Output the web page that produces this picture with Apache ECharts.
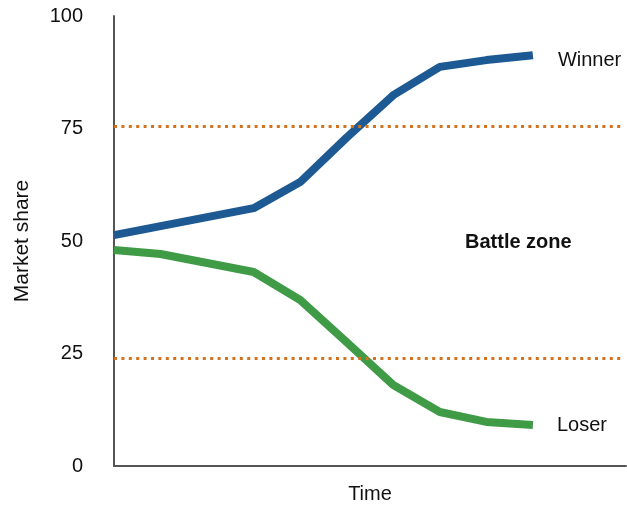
<!DOCTYPE html>
<html>
<head>
<meta charset="utf-8">
<script src="https://cdn.jsdelivr.net/npm/echarts@6/dist/echarts.min.js"></script>
<style>
html,body{margin:0;padding:0;background:#fff;}
#c{width:627px;height:506px;}
</style>
</head>
<body>
<div id="c"></div>
<script>
var timeSteps = [0, 1, 2, 3, 4, 5, 6, 7, 8, 9];
var winner = [51.3, 53.3, 55.3, 57.3, 63.1, 73.0, 82.4, 88.7, 90.2, 91.3];
var loser = [48.0, 47.1, 45.1, 43.1, 36.9, 27.5, 18.0, 12.0, 9.8, 9.1];
var yTicks = [0, 25, 50, 75, 100];
var upperThreshold = 75.5;
var lowerThreshold = 24;
var zoneLabel = 'Battle zone';

var font = 'Liberation Sans, Arial, Helvetica, sans-serif';
function pairs(vals){ return timeSteps.map(function(t,i){ return [t, vals[i]]; }); }

var chart = echarts.init(document.getElementById('c'), null, {renderer:'canvas'});
chart.setOption({
  animation:false,
  backgroundColor:'#fff',
  grid:{left:114, right:1, top:16, bottom:40, containLabel:false, outerBoundsMode:'none'},
  xAxis:{
    type:'value', min:0, max:11,
    name:'Time', nameLocation:'middle', nameGap:18,
    nameTextStyle:{fontFamily:font, fontSize:20, color:'#111'},
    axisLine:{show:true, lineStyle:{color:'#555', width:2}},
    axisTick:{show:false}, axisLabel:{show:false}, splitLine:{show:false}
  },
  yAxis:{
    type:'value', min:yTicks[0], max:yTicks[yTicks.length-1], interval:25,
    name:'Market share', nameLocation:'middle', nameGap:81, nameRotate:90,
    nameTextStyle:{fontFamily:font, fontSize:21, color:'#111'},
    axisLine:{show:true, lineStyle:{color:'#555', width:2}},
    axisTick:{show:false},
    axisLabel:{fontFamily:font, fontSize:20, color:'#111', margin:31, padding:[3,0,0,0]},
    splitLine:{show:false}
  },
  series:[
    {
      name:'Winner', type:'line', data:pairs(winner), showSymbol:false, symbol:'none',
      lineStyle:{color:'#1d5a93', width:8, join:'round'},
      endLabel:{show:true, formatter:'{a}', distance:25, offset:[0,5],
        fontFamily:font, fontSize:20, color:'#111'},
      markLine:{
        silent:true, symbol:['none','none'],
        lineStyle:{color:'#d4731f', type:[3,4.4], width:3},
        label:{show:false},
        data:[
          [{coord:[0, upperThreshold]},{coord:[10.9, upperThreshold]}],
          [{coord:[0, lowerThreshold]},{coord:[10.9, lowerThreshold]}]
        ]
      }
    },
    {
      name:'Loser', type:'line', data:pairs(loser), showSymbol:false, symbol:'none',
      lineStyle:{color:'#3f9b46', width:8, join:'round'},
      endLabel:{show:true, formatter:'{a}', distance:24,
        fontFamily:font, fontSize:20, color:'#111'}
    }
  ],
  graphic:[{
    type:'text', left:465, top:232,
    style:{text:zoneLabel, fontFamily:font, fontSize:20, fontWeight:'bold', fill:'#111'}
  }]
});
</script>
</body>
</html>
